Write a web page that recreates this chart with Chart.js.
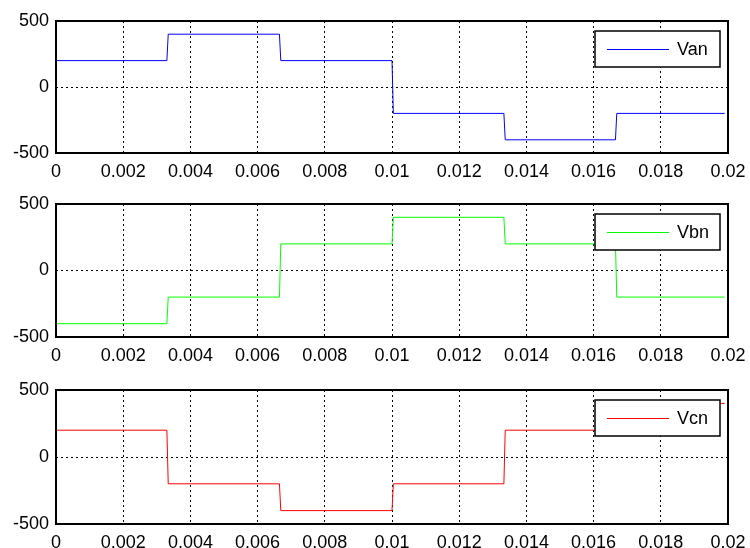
<!DOCTYPE html>
<html>
<head>
<meta charset="utf-8">
<script src="https://cdn.jsdelivr.net/npm/chart.js@4/dist/chart.umd.min.js"></script>
<style>
  html, body { margin: 0; padding: 0; background: #fff; overflow: hidden; }
  #wrap { position: relative; width: 750px; height: 548px; }
  canvas { position: absolute; left: 0; }
</style>
</head>
<body>
<div id="wrap"></div>
<script>
// Time instants (s) of the step waveform samples
const time = [0, 0.0033, 0.00334, 0.00665, 0.00669, 0.01, 0.01004, 0.01333, 0.01337, 0.01665, 0.01669, 0.0199];

// Phase-to-neutral voltages (V) at those instants
const van = [200, 200, 400, 400, 200, 200, -200, -200, -400, -400, -200, -200];
const vbn = [-400, -400, -200, -200, 200, 200, 400, 400, 200, 200, -200, -200];
const vcn = [200, 200, -200, -200, -400, -400, -200, -200, 200, 200, 400, 400];

const seriesNames = ['Van', 'Vbn', 'Vcn'];
const seriesValues = [van, vbn, vcn];
const seriesColors = ['#0000ff', '#00ff00', '#ff0000'];

// Axis ticks
const xTicks = [0, 0.002, 0.004, 0.006, 0.008, 0.01, 0.012, 0.014, 0.016, 0.018, 0.02];
const xTickLabels = ['0', '0.002', '0.004', '0.006', '0.008', '0.01', '0.012', '0.014', '0.016', '0.018', '0.02'];
const yTicks = [-500, 0, 500];
const yTickLabels = ['-500', '0', '500'];

// Panel placement on the page
const panels = [
  { top: 0,   padTop: 21, plotH: 132 },
  { top: 184, padTop: 20, plotH: 133 },
  { top: 370, padTop: 20, plotH: 134 }
];
const FONT = "'Liberation Sans', Arial, sans-serif";
const AXIS_W = 56, X_AXIS_H = 31, RIGHT_PAD = 22;

// Solid frame around the plot area
const framePlugin = {
  id: 'frame',
  afterDatasetsDraw(chart) {
    const a = chart.chartArea, ctx = chart.ctx;
    ctx.save();
    ctx.strokeStyle = '#000';
    ctx.lineWidth = 2;
    ctx.strokeRect(a.left, a.top, a.right - a.left, a.bottom - a.top);
    ctx.restore();
  }
};

// Boxed legend in the upper-right corner of the plot area
const boxLegendPlugin = {
  id: 'boxLegend',
  afterDraw(chart) {
    const a = chart.chartArea, ctx = chart.ctx;
    const ds = chart.data.datasets[0];
    const w = 125, h = 36;
    const x = a.right - 133, y = a.top + 10;
    ctx.save();
    ctx.fillStyle = '#fff';
    ctx.fillRect(x, y, w, h);
    ctx.strokeStyle = '#000';
    ctx.lineWidth = 1.5;
    ctx.strokeRect(x, y, w, h);
    ctx.strokeStyle = ds.borderColor;
    ctx.lineWidth = 1;
    ctx.beginPath();
    ctx.moveTo(x + 12, y + h / 2 + 0.5);
    ctx.lineTo(x + 74, y + h / 2 + 0.5);
    ctx.stroke();
    ctx.fillStyle = '#000';
    ctx.font = '18px ' + FONT;
    ctx.textBaseline = 'middle';
    ctx.textAlign = 'left';
    ctx.fillText(ds.label, x + 82, y + h / 2 + 1);
    ctx.restore();
  }
};

const wrap = document.getElementById('wrap');

panels.forEach((p, i) => {
  const cv = document.createElement('canvas');
  const H = p.padTop + p.plotH + X_AXIS_H;
  cv.width = 750; cv.height = H;
  cv.style.width = '750px'; cv.style.height = H + 'px';
  cv.style.top = p.top + 'px';
  wrap.appendChild(cv);

  const pts = time.map((t, k) => ({ x: t, y: seriesValues[i][k] }));

  new Chart(cv.getContext('2d'), {
    type: 'line',
    data: {
      datasets: [{
        label: seriesNames[i],
        data: pts,
        borderColor: seriesColors[i],
        borderWidth: 1,
        pointRadius: 0,
        tension: 0,
        fill: false
      }]
    },
    options: {
      responsive: false,
      animation: false,
      devicePixelRatio: 1,
      layout: { padding: { left: 0, right: RIGHT_PAD, top: p.padTop, bottom: 0 } },
      plugins: { legend: { display: false }, tooltip: { enabled: false } },
      scales: {
        x: {
          type: 'linear',
          min: 0, max: 0.02,
          afterBuildTicks(s) { s.ticks = xTicks.map(v => ({ value: v })); },
          afterFit(s) { s.height = X_AXIS_H; s.paddingLeft = 0; s.paddingRight = 0; },
          ticks: {
            autoSkip: false, maxRotation: 0, padding: 8,
            color: '#000', font: { family: FONT, size: 18 },
            callback: (v, idx) => xTickLabels[idx]
          },
          grid: { color: '#000', lineWidth: 1, drawTicks: false },
          border: { display: false, dash: [2, 3] }
        },
        y: {
          type: 'linear',
          min: -500, max: 500,
          afterBuildTicks(s) { s.ticks = yTicks.map(v => ({ value: v })); },
          afterFit(s) { s.width = AXIS_W; s.paddingTop = 0; s.paddingBottom = 0; },
          ticks: {
            autoSkip: false, padding: 7,
            color: '#000', font: { family: FONT, size: 18 },
            callback: (v, idx) => yTickLabels[idx]
          },
          grid: { color: '#000', lineWidth: 1, drawTicks: false },
          border: { display: false, dash: [2, 3] }
        }
      }
    },
    plugins: [framePlugin, boxLegendPlugin]
  });
});
</script>
</body>
</html>
